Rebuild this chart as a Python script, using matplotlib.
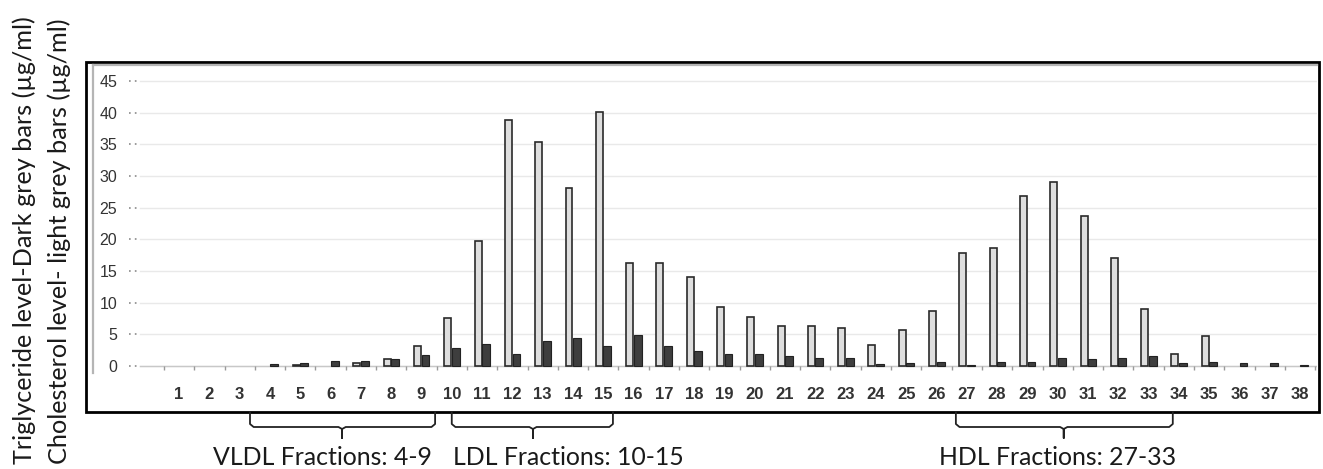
import numpy as np
import matplotlib.pyplot as plt
import matplotlib.transforms as mtrans
from matplotlib.patches import Rectangle
from matplotlib.lines import Line2D

fractions = np.arange(1, 39)
cholesterol = [0, 0, 0, 0, 0.15, 0, 0.45, 1.15, 3.15, 7.6, 19.8, 38.9, 35.4, 28.1, 40.1,
               16.2, 16.2, 14.1, 9.3, 7.8, 6.3, 6.3, 6.05, 3.3, 5.7, 8.7, 17.9, 18.6, 26.9,
               29.0, 23.6, 17.0, 9.0, 1.9, 4.8, 0, 0, 0]
triglyceride = [0, 0, 0, 0.25, 0.4, 0.8, 0.75, 1.15, 1.7, 2.9, 3.5, 1.95, 4.0, 4.4, 3.2,
                4.9, 3.2, 2.3, 1.95, 1.95, 1.6, 1.3, 1.3, 0.35, 0.4, 0.7, 0.2, 0.7, 0.7,
                1.3, 1.05, 1.3, 1.6, 0.4, 0.7, 0.4, 0.4, 0.2]
yticks = [0, 5, 10, 15, 20, 25, 30, 35, 40, 45]
groups = ['VLDL Fractions: 4-9', 'LDL Fractions: 10-15', 'HDL Fractions: 27-33']

W, H = 1323, 469
fig = plt.figure(figsize=(W / 100, H / 100), dpi=100)


def fx(px):
    return px / W


def fy(py):
    return 1 - py / H


ax = fig.add_axes([fx(127), fy(373), fx(1317 - 127), (373 - 65) / H])
ax.set_xlim(-0.72, 38.56)
ax.set_ylim(-1.1, 47.5)

# cholesterol (light) and triglyceride (dark) bars side by side, empty fractions left out
chol = np.array(cholesterol)
trig = np.array(triglyceride)
m1 = chol > 0
m2 = trig > 0
ax.bar(fractions[m1] - 0.13, chol[m1], width=0.23, color='#dedede',
       edgecolor='#2a2a2a', linewidth=1.2, zorder=3)
ax.bar(fractions[m2] + 0.135, trig[m2], width=0.26, color='#3e3e3e',
       edgecolor='#222222', linewidth=0.8, zorder=3)

for s in ax.spines.values():
    s.set_visible(False)

ax.set_yticks(yticks)
ax.set_yticklabels([str(v) for v in yticks], fontsize=11.5, color='#333333',
                   family='Liberation Sans')
ax.tick_params(axis='y', length=0, pad=7)
for v in yticks:
    ax.plot([-0.66, -0.38], [v, v], ls=(0, (1, 2.5)), color='#8a8a8a', lw=1.2, zorder=2)
    ax.plot([-0.3, 38.56], [v, v], color='#e9e9e9', lw=1, zorder=1)
ax.plot([-0.3, 38.56], [0, 0], color='#c8c8c8', lw=1, zorder=2)
ax.plot(np.arange(0, 39) + 0.5, np.full(39, -0.35), ls='none', marker='|',
        ms=3, color='#9a9a9a', zorder=2)

ax.set_xticks(fractions)
ax.set_xticklabels([str(f) for f in fractions], fontsize=12, fontweight='bold',
                   color='#333333', family='Liberation Sans')
ax.tick_params(axis='x', length=0, pad=10)

# frame: outer black box and inner grey border
fig.add_artist(Rectangle((fx(86), fy(412)), fx(1319 - 86), (412 - 62) / H,
                         transform=fig.transFigure, fill=False, ec='black', lw=2))
fig.add_artist(Line2D([fx(93), fx(93)], [fy(65), fy(373)], color='#b5b5b5', lw=1.6))
fig.add_artist(Line2D([fx(93), fx(1317)], [fy(65), fy(65)], color='#b5b5b5', lw=1.6))

# y labels (two lines)
lab_font = dict(family='Lato', fontsize=18.2, color='#1a1a1a', rotation=90,
                rotation_mode='anchor', ha='left', va='baseline')
fig.text(fx(32), fy(464), 'Triglyceride level-Dark grey bars (µg/ml)', **lab_font)
fig.text(fx(67), fy(464), 'Cholesterol level- light grey bars (µg/ml)', **lab_font)

# brackets under the axis: (start, end, tip, text x) in fraction units
spans = [(3.34, 9.45, 6.38, 5.72), (10.0, 15.32, 12.68, 13.84), (26.64, 33.8, 30.2, 29.98)]
tr = mtrans.blended_transform_factory(ax.transData, fig.transFigure)
for (x0, x1, tip, tx), name in zip(spans, groups):
    xs = [x0, x0, x0 + 0.12, tip - 0.12, tip, tip, tip, tip + 0.12, x1 - 0.12, x1, x1]
    ys = [412, 424, 427, 427, 429, 438, 429, 427, 427, 424, 412]
    fig.add_artist(Line2D(xs, [fy(y) for y in ys], transform=tr, color='#222222', lw=1.3))
    fig.text(tx, fy(465), name, transform=tr, ha='center', va='baseline',
             family='Lato', fontsize=17.9, color='#1a1a1a')

fig.savefig('out.png', dpi=100)
